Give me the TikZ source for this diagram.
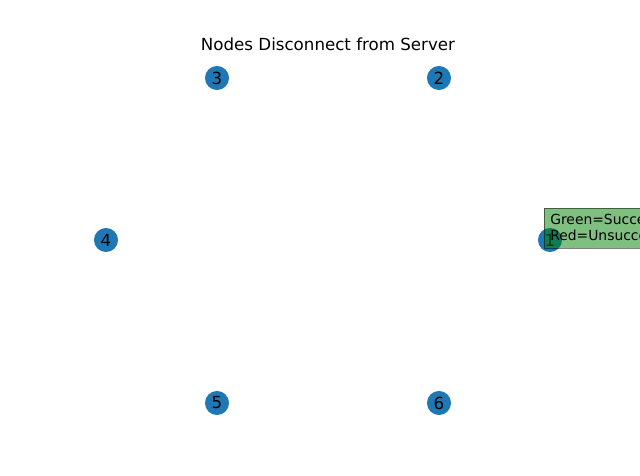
\documentclass[tikz,border=0pt]{standalone}
\usepackage{fontspec}
\setmainfont{DejaVu Sans}
\definecolor{nodeblue}{HTML}{1F78B4}
\begin{document}
\begin{tikzpicture}[x=0.72pt,y=-0.72pt,
  gnode/.style={circle,fill=nodeblue,draw=none,minimum size=17.3pt,inner sep=0pt,font=\fontsize{12}{14}\selectfont,text=black},
  legendbox/.style={fill=green!50!black,fill opacity=0.5,draw=black,draw opacity=0.5,line width=0.7pt},
  legendtext/.style={font=\fontsize{10}{11.5}\selectfont,anchor=west,inner sep=0pt,align=left}]
\useasboundingbox (0,0) rectangle (640,476);
\clip (0,0) rectangle (640,476);
\node[font=\fontsize{12}{14}\selectfont,inner sep=0pt] (title) at (328,44) {Nodes Disconnect from Server};
\node[gnode] (n3) at (217,78) {3};
\node[gnode] (n2) at (439,78) {2};
\node[gnode] (n4) at (106,240) {4};
\node[gnode] (n1) at (550,240) {1};
\node[gnode] (n5) at (217,403) {5};
\node[gnode] (n6) at (439,403) {6};
\fill[green!50!black,fill opacity=0.5] (544,208) rectangle (700,248);
\draw[black,draw opacity=0.5,line width=0.7pt] (544,208) rectangle (700,248);
\node[legendtext] (leg1) at (550,219.5) {Green=Successful};
\node[legendtext] (leg2) at (550,235.5) {Red=Unsuccessful};
\end{tikzpicture}
\end{document}
